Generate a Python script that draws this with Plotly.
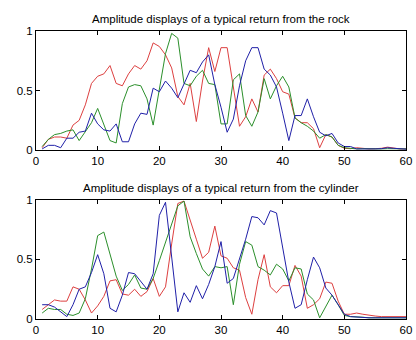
import plotly.graph_objects as go

x = list(range(1, 61))

rock_red = [0.02, 0.09, 0.11, 0.11, 0.10, 0.21, 0.25, 0.38, 0.56, 0.62,
            0.64, 0.71, 0.56, 0.54, 0.64, 0.71, 0.68, 0.75, 0.90, 0.87,
            0.80, 0.69, 0.45, 0.38, 0.56, 0.24, 0.58, 0.86, 0.66, 0.86,
            0.86, 0.54, 0.20, 0.28, 0.43, 0.32, 0.63, 0.68, 0.60, 0.49,
            0.47, 0.27, 0.23, 0.23, 0.18, 0.02, 0.13, 0.11, 0.04, 0.015,
            0.012, 0.02, 0.015, 0.01, 0.012, 0.015, 0.025, 0.015, 0.01, 0.01]
rock_green = [0.03, 0.09, 0.13, 0.14, 0.16, 0.17, 0.08, 0.15, 0.23, 0.35,
              0.22, 0.08, 0.06, 0.39, 0.53, 0.55, 0.54, 0.43, 0.21, 0.51,
              0.81, 0.98, 0.94, 0.56, 0.54, 0.62, 0.67, 0.56, 0.55, 0.22,
              0.22, 0.59, 0.64, 0.29, 0.20, 0.32, 0.60, 0.43, 0.54, 0.62,
              0.53, 0.27, 0.23, 0.20, 0.16, 0.10, 0.13, 0.11, 0.04, 0.02,
              0.015, 0.01, 0.012, 0.01, 0.008, 0.01, 0.012, 0.01, 0.008, 0.01]
rock_blue = [0.01, 0.04, 0.04, 0.02, 0.10, 0.10, 0.15, 0.16, 0.31, 0.22,
             0.17, 0.16, 0.22, 0.07, 0.07, 0.22, 0.31, 0.30, 0.52, 0.49,
             0.58, 0.52, 0.44, 0.56, 0.67, 0.65, 0.74, 0.80, 0.55, 0.36,
             0.15, 0.26, 0.54, 0.75, 0.86, 0.86, 0.68, 0.63, 0.53, 0.31,
             0.08, 0.29, 0.29, 0.43, 0.28, 0.15, 0.12, 0.14, 0.06, 0.03,
             0.03, 0.01, 0.008, 0.01, 0.01, 0.012, 0.02, 0.015, 0.01, 0.008]

cyl_red = [0.08, 0.12, 0.16, 0.15, 0.15, 0.27, 0.25, 0.16, 0.05, 0.11,
           0.19, 0.32, 0.33, 0.21, 0.20, 0.25, 0.19, 0.23, 0.34, 0.19,
           0.27, 0.63, 0.97, 0.99, 0.82, 0.67, 0.51, 0.56, 0.78, 0.53,
           0.51, 0.43, 0.41, 0.18, 0.04, 0.33, 0.54, 0.27, 0.22, 0.28,
           0.28, 0.45, 0.36, 0.09, 0.12, 0.17, 0.31, 0.30, 0.15, 0.04,
           0.04, 0.05, 0.04, 0.03, 0.025, 0.02, 0.02, 0.02, 0.015, 0.02]
cyl_green = [0.05, 0.09, 0.08, 0.08, 0.04, 0.03, 0.05, 0.17, 0.42, 0.70,
             0.73, 0.55, 0.36, 0.24, 0.29, 0.37, 0.26, 0.25, 0.34, 0.49,
             0.64, 0.80, 0.95, 0.99, 0.69, 0.55, 0.42, 0.36, 0.44, 0.43,
             0.44, 0.12, 0.46, 0.65, 0.62, 0.44, 0.41, 0.37, 0.46, 0.42,
             0.32, 0.43, 0.42, 0.21, 0.16, 0.01, 0.11, 0.20, 0.12, 0.03,
             0.02, 0.02, 0.015, 0.01, 0.01, 0.01, 0.01, 0.01, 0.008, 0.01]
cyl_blue = [0.12, 0.12, 0.10, 0.06, 0.02, 0.12, 0.25, 0.27, 0.39, 0.54,
            0.38, 0.09, 0.06, 0.20, 0.39, 0.38, 0.31, 0.25, 0.38, 0.87,
            0.98, 0.50, 0.06, 0.22, 0.14, 0.28, 0.17, 0.29, 0.44, 0.65,
            0.30, 0.34, 0.50, 0.67, 0.86, 0.85, 0.79, 0.91, 0.89, 0.60,
            0.31, 0.09, 0.12, 0.33, 0.52, 0.43, 0.26, 0.20, 0.12, 0.04,
            0.02, 0.015, 0.01, 0.01, 0.01, 0.01, 0.01, 0.008, 0.008, 0.01]

titles = ["Amplitude displays of a typical return from the rock",
          "Amplitude displays of a typical return from the cylinder"]
x_ticks = [0, 10, 20, 30, 40, 50, 60]
y_ticks = [0, 0.5, 1]
y_tick_text = ["0", "0.5", "1"]

RED = "#dd4040"
GREEN = "#2b8f2b"
BLUE = "#2020a8"

FONT = dict(family="Liberation Sans, Arial, sans-serif", size=11.5, color="black")

fig = go.Figure()
for xa, ya, series in [("x", "y", [rock_red, rock_green, rock_blue]),
                       ("x2", "y2", [cyl_red, cyl_green, cyl_blue])]:
    for vals, col in zip(series, [RED, GREEN, BLUE]):
        fig.add_trace(go.Scatter(x=x, y=vals, mode="lines", xaxis=xa, yaxis=ya,
                                 line=dict(color=col, width=1), showlegend=False,
                                 hoverinfo="skip"))

H_TOTAL = 340
T, B = 31, 14
plot_h = H_TOTAL - T - B
top_dom = [(326 - 153) / plot_h, 1.0]
bot_dom = [0.0, (326 - 204) / plot_h]

axis_common = dict(showline=True, linecolor="black", linewidth=1, mirror="ticks",
                   ticks="inside", ticklen=4, tickcolor="black", showgrid=False,
                   zeroline=False, tickfont=FONT, ticklabeloverflow="allow")

fig.update_layout(
    width=416, height=340,
    margin=dict(l=36, r=4, t=T, b=B),
    paper_bgcolor="white", plot_bgcolor="white",
    font=FONT,
    xaxis=dict(domain=[0, 1], anchor="y", range=[0, 60], tickvals=x_ticks, **axis_common),
    yaxis=dict(domain=top_dom, anchor="x", range=[0, 1], tickvals=y_ticks,
               ticktext=y_tick_text, **axis_common),
    xaxis2=dict(domain=[0, 1], anchor="y2", range=[0, 60], tickvals=x_ticks, **axis_common),
    yaxis2=dict(domain=bot_dom, anchor="x2", range=[0, 1], tickvals=y_ticks,
                ticktext=y_tick_text, **axis_common),
    annotations=[
        dict(text=titles[0], xref="paper", yref="paper", x=0.5,
             y=(326 - 18.5) / plot_h, xanchor="center", yanchor="middle",
             showarrow=False, font=FONT),
        dict(text=titles[1], xref="paper", yref="paper", x=0.5,
             y=(326 - 191.5) / plot_h, xanchor="center", yanchor="middle",
             showarrow=False, font=FONT),
    ],
)

fig.write_html("out.html")
